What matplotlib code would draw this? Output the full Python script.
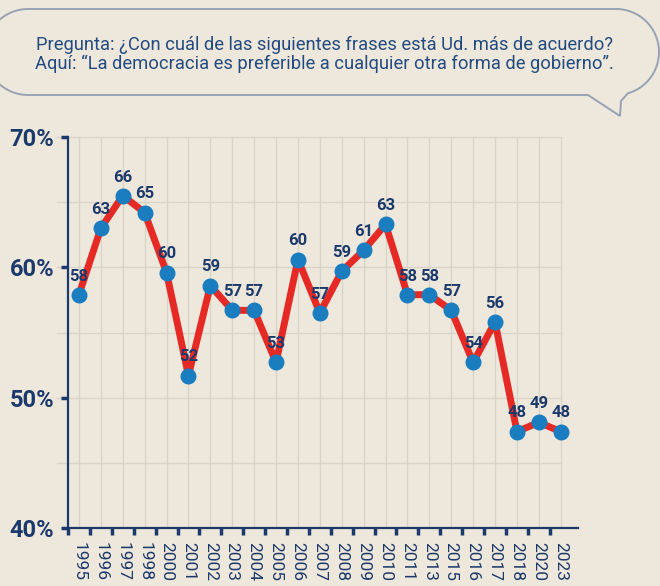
import numpy as np
import matplotlib
matplotlib.use("Agg")
import matplotlib.pyplot as plt
from matplotlib.path import Path
from matplotlib.patches import PathPatch

years = ["1995", "1996", "1997", "1998", "2000", "2001", "2002", "2003", "2004", "2005",
         "2006", "2007", "2008", "2009", "2010", "2011", "2013", "2015", "2016", "2017",
         "2018", "2020", "2023"]
values = [57.9, 63.0, 65.5, 64.2, 59.6, 51.7, 58.6, 56.7, 56.7, 52.7,
          60.6, 56.5, 59.7, 61.3, 63.3, 57.9, 57.9, 56.7, 52.7, 55.8,
          47.4, 48.1, 47.4]
labels = ["58", "63", "66", "65", "60", "52", "59", "57", "57", "53",
          "60", "57", "59", "61", "63", "58", "58", "57", "54", "56",
          "48", "49", "48"]
yticks = [40, 50, 60, 70]
ytick_labels = ["40%", "50%", "60%", "70%"]
question = ("Pregunta: ¿Con cuál de las siguientes frases está Ud. más de acuerdo?\n"
            "Aquí: “La democracia es preferible a cualquier otra forma de gobierno”.")

BG = "#eee8dc"
NAVY = "#1c396b"
TEXTBLUE = "#234b80"
RED = "#e52a25"
BLUE = "#1a7dc0"
GRID = "#d9d4ca"

W, H = 660, 586
fig = plt.figure(figsize=(W / 100, H / 100), dpi=100, facecolor=BG)

# overlay axes in pixel coordinates for the speech bubble
ov = fig.add_axes([0, 0, 1, 1])
ov.set_xlim(0, W)
ov.set_ylim(H, 0)
ov.axis("off")
ov.patch.set_alpha(0)

cxr, cyr, r = 616, 52, 43
cxl = 28
pts = [(cxl, 9), (cxr, 9)]
for t in np.linspace(-90, 74, 40):
    a = np.radians(t)
    pts.append((cxr + r * np.cos(a), cyr + r * np.sin(a)))
pts += [(621, 101), (620, 116), (588, 95), (cxl, 95)]
for t in np.linspace(90, 270, 40):
    a = np.radians(t)
    pts.append((cxl + r * np.cos(a), cyr + r * np.sin(a)))
pts.append((cxl, 9))
codes = [Path.MOVETO] + [Path.LINETO] * (len(pts) - 1)
ov.add_patch(PathPatch(Path(pts, codes), facecolor="none", edgecolor="#97a3b4",
                       lw=1.4, clip_on=False))
ov.text(324, 54, question, ha="center", va="center", fontsize=13.2,
        family="Roboto", color=TEXTBLUE, linespacing=1.05)

# main axes
x0, x1 = 68, 578
ytop, ybot = 137, 528
step = 21.9
ax = fig.add_axes([x0 / W, (H - ybot) / H, (x1 - x0) / W, (ybot - ytop) / H])
ax.patch.set_alpha(0)
n = len(years)
xs = np.arange(n)
ax.set_xlim(-0.5, -0.5 + (x1 - x0) / step)
ax.set_ylim(40, 70)

# grid
for v in [45, 50, 55, 60, 65, 70]:
    ax.plot([-1, n - 1], [v, v], color=GRID, lw=1, zorder=0, clip_on=False)
for i in xs:
    ax.plot([i, i], [40, 70], color=GRID, lw=1, zorder=0)

ax.plot(xs, values, color=RED, lw=5, zorder=2, solid_joinstyle="round")
ax.plot(xs, values, "o", color=BLUE, ms=10.5, zorder=3)
for i, (v, lab) in enumerate(zip(values, labels)):
    ax.annotate(lab, (i, v), xytext=(0, 8), textcoords="offset points",
                ha="center", va="bottom", fontsize=12, fontweight="bold",
                family="Roboto", color=NAVY, zorder=4)

for s in ["top", "right"]:
    ax.spines[s].set_visible(False)
for s in ["left", "bottom"]:
    ax.spines[s].set_color(NAVY)
    ax.spines[s].set_linewidth(1.6)

ax.set_yticks(yticks)
ax.set_yticklabels(ytick_labels)
ax.tick_params(axis="y", length=5, width=2.5, color=NAVY, pad=5,
               labelsize=17, labelcolor=NAVY)
for t in ax.get_yticklabels():
    t.set_fontweight("bold")
    t.set_family("Roboto")

ax.set_xticks(xs)
ax.set_xticklabels(years, rotation=270, family="Roboto")
ax.set_xticks(xs - 0.5, minor=True)
ax.tick_params(axis="x", which="major", length=0, pad=10, labelsize=12.5,
               labelcolor=NAVY)
ax.tick_params(axis="x", which="minor", length=5, width=2.5, color=NAVY)

fig.savefig("out.png", dpi=100, facecolor=BG)
